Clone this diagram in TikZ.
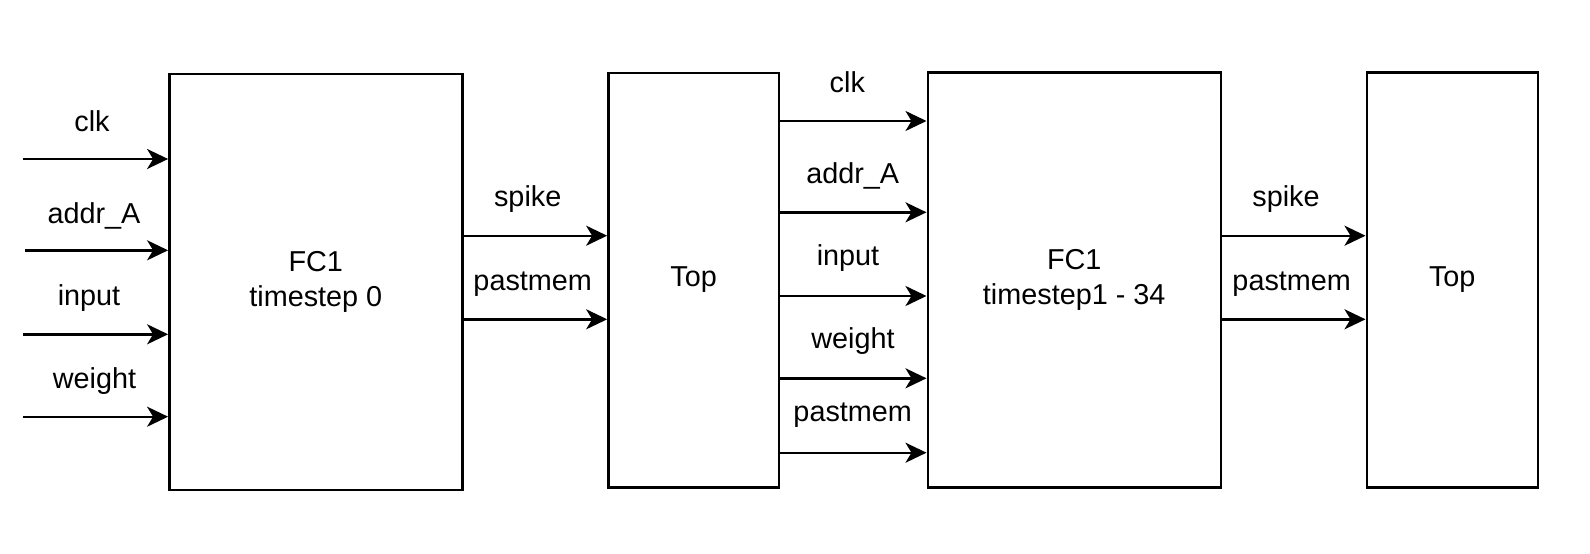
\documentclass[tikz,border=0pt]{standalone}
\usepackage{fontspec}
\setmainfont{Liberation Sans}
\usetikzlibrary{arrows.meta}
\begin{document}
\begin{tikzpicture}[x=1pt,y=1pt,
  box/.style={draw=black,line width=2.4pt,rectangle,inner sep=0pt,align=center,
    font=\fontsize{28.8}{34.5}\selectfont},
  arr/.style={line width=2.4pt,-{Stealth[length=21pt,width=20pt,inset=6pt]}},
  lbl/.style={anchor=base,inner sep=0pt,font=\fontsize{28.8}{34.5}\selectfont}]
\useasboundingbox (0,0) rectangle (1590,-554);
% boxes
\node[box,minimum width=293pt,minimum height=416pt] (fca) at (315.8,-282) {FC1\\timestep 0};
\node[box,minimum width=170.7pt,minimum height=414.6pt] (topa) at (693.7,-280) {Top};
\node[box,minimum width=293pt,minimum height=415pt] (fcb) at (1074.2,-279.8) {FC1\\timestep1 - 34};
\node[box,minimum width=171pt,minimum height=415pt] (topb) at (1452.2,-280) {Top};
% left inputs
\coordinate (i1) at (23,-159);
\coordinate (i2) at (25,-250.3);
\coordinate (i3) at (23,-334.3);
\coordinate (i4) at (23,-416.7);
\draw[arr] (i1) -- (i1 -| fca.west);
\draw[arr] (i2) -- (i2 -| fca.west);
\draw[arr] (i3) -- (i3 -| fca.west);
\draw[arr] (i4) -- (i4 -| fca.west);
\node[lbl] (l1) at (92,-131.5) {clk};
\node[lbl] (l2) at (94,-223) {addr\_A};
\node[lbl] (l3) at (89,-305.5) {input};
\node[lbl] (l4) at (94.5,-388) {weight};
% fca -> topa
\coordinate (a1) at (0,-235.7);
\coordinate (a2) at (0,-319.3);
\draw[arr] (fca.east |- a1) -- (topa.west |- a1);
\draw[arr] (fca.east |- a2) -- (topa.west |- a2);
\node[lbl] (m1) at (527.7,-206.7) {spike};
\node[lbl] (m2) at (532.7,-290) {pastmem};
% topa -> fcb
\coordinate (b1) at (0,-121);
\coordinate (b2) at (0,-212.3);
\coordinate (b3) at (0,-296);
\coordinate (b4) at (0,-378.3);
\coordinate (b5) at (0,-452.7);
\draw[arr] (topa.east |- b1) -- (fcb.west |- b1);
\draw[arr] (topa.east |- b2) -- (fcb.west |- b2);
\draw[arr] (topa.east |- b3) -- (fcb.west |- b3);
\draw[arr] (topa.east |- b4) -- (fcb.west |- b4);
\draw[arr] (topa.east |- b5) -- (fcb.west |- b5);
\node[lbl] (n1) at (847.3,-92.3) {clk};
\node[lbl] (n2) at (852.7,-183.3) {addr\_A};
\node[lbl] (n3) at (848,-265) {input};
\node[lbl] (n4) at (853,-348.3) {weight};
\node[lbl] (n5) at (852.7,-421.7) {pastmem};
% fcb -> topb
\draw[arr] (fcb.east |- a1) -- (topb.west |- a1);
\draw[arr] (fcb.east |- a2) -- (topb.west |- a2);
\node[lbl] (r1) at (1286,-206.7) {spike};
\node[lbl] (r2) at (1291.7,-290) {pastmem};
\end{tikzpicture}
\end{document}
